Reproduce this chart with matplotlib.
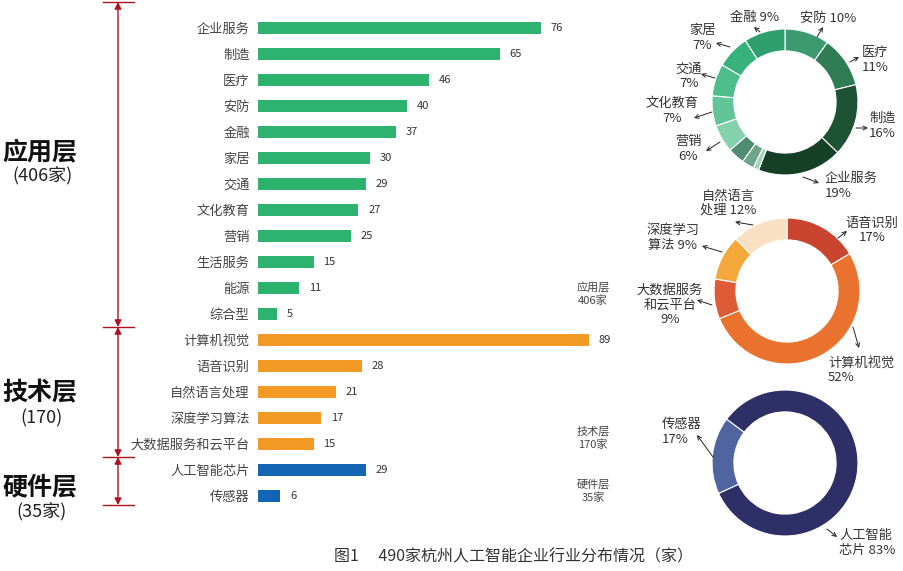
import numpy as np
import matplotlib
matplotlib.use('Agg')
import matplotlib.pyplot as plt
import matplotlib.transforms as mtransforms

plt.rcParams['font.family'] = ['Noto Sans CJK SC', 'DejaVu Sans']

# ---- data ----
app_names = ['企业服务', '制造', '医疗', '安防', '金融', '家居', '交通', '文化教育',
             '营销', '生活服务', '能源', '综合型']
app_vals = [76, 65, 46, 40, 37, 30, 29, 27, 25, 15, 11, 5]
tech_names = ['计算机视觉', '语音识别', '自然语言处理', '深度学习算法', '大数据服务和云平台']
tech_vals = [89, 28, 21, 17, 15]
hw_names = ['人工智能芯片', '传感器']
hw_vals = [29, 6]

# donut order (clockwise from top)
ring1_names = ['安防', '医疗', '制造', '企业服务', '综合型', '能源', '生活服务',
               '营销', '文化教育', '交通', '家居', '金融']
ring2_names = ['语音识别', '计算机视觉', '大数据服务和云平台', '深度学习算法', '自然语言处理']
ring3_names = ['传感器', '人工智能芯片']

W, H = 904, 571
fig = plt.figure(figsize=(W / 100, H / 100), dpi=100)
fig.patch.set_facecolor('white')

def fx(px):
    return px / W

def fy(py):
    return 1 - py / H

# ---- bar chart ----
names = app_names + tech_names + hw_names
vals = app_vals + tech_vals + hw_vals
colors = ['#2db36e'] * len(app_vals) + ['#f39a26'] * len(tech_vals) + ['#1565b5'] * len(hw_vals)

ax = fig.add_axes([fx(258), fy(509), fx(380 + 258) - fx(258), (509 - 15) / H])
y = np.arange(len(names))
ax.barh(y, vals, height=0.48, color=colors)
ax.set_ylim(len(names) - 0.5, -0.5)
ax.set_xlim(0, 380 / 3.72)
ax.set_yticks(y)
ax.set_yticklabels(names, fontsize=9.5, color='#444444')
ax.tick_params(axis='y', length=0, pad=6)
ax.set_xticks([])
for s in ax.spines.values():
    s.set_visible(False)
for yi, v in zip(y, vals):
    ax.text(v + 2.6, yi, str(v), va='center', ha='left', fontsize=8, color='#333333')

# red brackets
red = '#b01020'
tr = mtransforms.blended_transform_factory(fig.transFigure, ax.transData)
bounds = [-1.0, len(app_vals) - 0.5, len(app_vals) + len(tech_vals) - 0.5, len(names) - 0.65]
for b in bounds:
    ax.plot([fx(103), fx(134)], [b, b], color=red, lw=1.0, transform=tr, clip_on=False)
for b0, b1 in zip(bounds[:-1], bounds[1:]):
    ax.annotate('', xy=(fx(118), b1), xytext=(fx(118), b0), xycoords=tr, textcoords=tr,
                arrowprops=dict(arrowstyle='<|-|>', color=red, lw=1.0,
                                mutation_scale=10, shrinkA=0, shrinkB=0),
                annotation_clip=False)

big = [('应用层', '(406家)', 152, 176), ('技术层', '(170)', 393, 418), ('硬件层', '(35家)', 487, 512)]
for t1, t2, y1, y2 in big:
    fig.text(fx(40), fy(y1), t1, fontsize=18, fontweight='bold', ha='center', va='center', color='#111111')
    fig.text(fx(42), fy(y2), t2, fontsize=13, ha='center', va='center', color='#222222')

side = [('应用层\n406家', 294), ('技术层\n170家', 438), ('硬件层\n35家', 491)]
for t, yy in side:
    fig.text(fx(593), fy(yy), t, fontsize=8, ha='center', va='center', color='#444444',
             linespacing=1.3)

# ---- donuts ----
R = 73

def donut(cx, cy, names_, vals_, cols, start, ccw):
    d = fig.add_axes([fx(cx - R), fy(cy + R), 2 * R / W, 2 * R / H])
    d.pie(vals_, colors=cols, startangle=start, counterclock=ccw, radius=1,
          wedgeprops=dict(width=0.3, edgecolor='white', linewidth=0.8))
    d.set_xlim(-1, 1)
    d.set_ylim(-1, 1)
    d.axis('off')
    return d

lookup = dict(zip(names, vals))
ring1_cols = ['#3c9a70', '#2f7c55', '#1d5233', '#163f27', '#a3d2b8', '#70a58c', '#4f8d73',
              '#84d1ad', '#62c59a', '#4cbd8b', '#38b27d', '#2f9f70']
donut(785, 102, ring1_names, [lookup[n] for n in ring1_names], ring1_cols, 90, False)
ring2_cols = ['#c9452f', '#e9732e', '#e15a36', '#f4a73b', '#f9e0c2']
donut(787, 291, ring2_names, [lookup[n] for n in ring2_names], ring2_cols, 90, False)
ring3_cols = ['#50649f', '#2e2f66']
donut(785, 463, ring3_names, [lookup[n] for n in ring3_names], ring3_cols, 143, True)

# donut labels: (text, x, y, ha)
labels = [
    ('金融 9%', 755, 17, 'center'), ('安防 10%', 828, 18, 'center'),
    ('医疗\n11%', 862, 60, 'left'), ('制造\n16%', 869, 126, 'left'),
    ('企业服务\n19%', 825, 186, 'left'), ('家居\n7%', 702, 38, 'center'),
    ('交通\n7%', 689, 76, 'center'), ('文化教育\n7%', 672, 111, 'center'),
    ('营销\n6%', 688, 149, 'center'),
    ('自然语言\n处理 12%', 728, 203, 'center'), ('深度学习\n算法 9%', 673, 238, 'center'),
    ('语音识别\n17%', 872, 230, 'center'), ('大数据服务\n和云平台\n9%', 670, 305, 'center'),
    ('计算机视觉\n52%', 828, 370, 'left'),
    ('传感器\n17%', 662, 432, 'left'), ('人工智能\n芯片 83%', 839, 543, 'left'),
]
for t, xx, yy, ha in labels:
    fig.text(fx(xx), fy(yy), t, fontsize=9.5, ha=ha, va='center', color='#333333',
             linespacing=1.15)

arrows = [
    ((817, 37), (823, 27)), ((760, 32), (754, 27)), ((850, 62), (859, 57)),
    ((856, 128), (868, 128)), ((803, 177), (819, 183)), ((730, 47), (716, 43)),
    ((715, 78), (701, 74)), ((712, 112), (694, 118)), ((720, 142), (706, 151)),
    ((753, 225), (735, 222)), ((722, 252), (702, 246)), ((838, 238), (847, 231)),
    ((712, 305), (697, 300)), ((853, 327), (859, 348)),
    ((713, 457), (697, 435)), ((827, 529), (837, 537)),
]
for (x0, y0), (x1, y1) in arrows:
    fig.add_artist(matplotlib.patches.FancyArrowPatch(
        (fx(x0), fy(y0)), (fx(x1), fy(y1)), transform=fig.transFigure,
        arrowstyle='->', mutation_scale=7, lw=0.7, color='#222222',
        shrinkA=0, shrinkB=0))

fig.text(fx(514), fy(557), '图1\u3000 490家杭州人工智能企业行业分布情况（家）', fontsize=11.5,
         ha='center', va='center', color='#333333')

fig.savefig('out.png', dpi=100)
